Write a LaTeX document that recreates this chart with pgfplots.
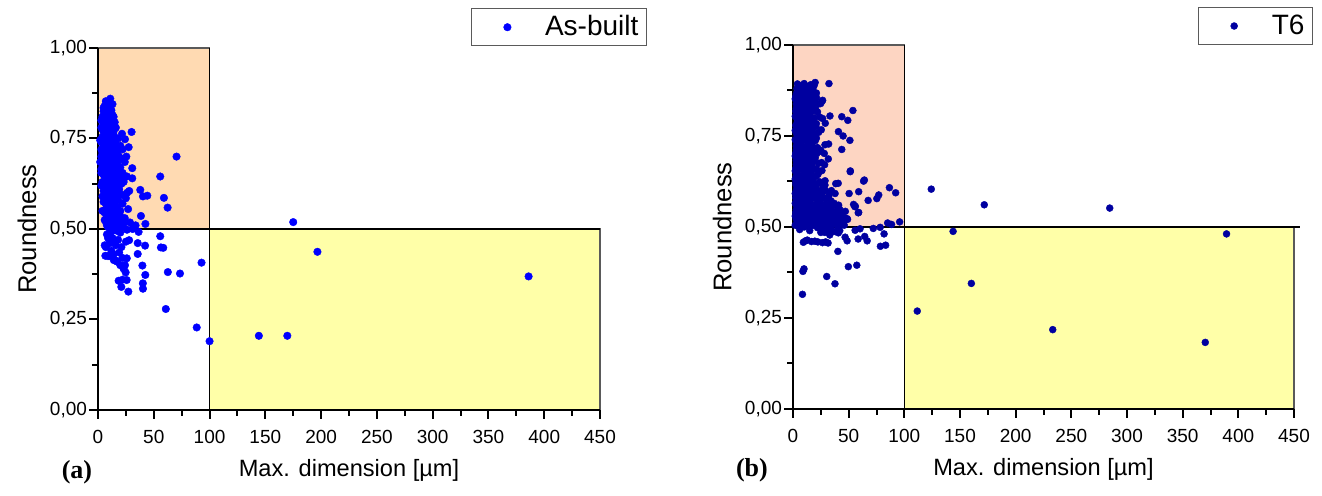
\documentclass[border=0pt]{standalone}
\usepackage{fontspec}
\setmainfont{Liberation Sans}
\newfontfamily\timesfont{Liberation Serif}
\usepackage{pgfplots}
\pgfplotsset{compat=1.18}
\definecolor{dotA}{RGB}{0,0,255}
\definecolor{dotB}{RGB}{0,0,160}
\definecolor{peachA}{RGB}{255,218,178}
\definecolor{peachB}{RGB}{253,213,194}
\definecolor{paleyellow}{RGB}{255,255,168}
\definecolor{edge}{RGB}{90,90,90}

\pgfplotsset{
  panel/.style={
    scale only axis, width=251pt, height=181pt,
    xmin=0, xmax=450, ymin=0, ymax=1,
    axis x line*=bottom, axis y line*=left,
    axis line style={-, line width=1pt, black},
    axis on top, clip=false,
    xtick={0,50,...,450}, ytick={0,0.25,0.5,0.75,1},
    minor x tick num=1, minor y tick num=1,
    tick align=outside, major tick length=4.5pt, minor tick length=2.8pt,
    every tick/.style={black, line width=1pt},
    /pgf/number format/assume math mode=true,
    ticklabel style={font=\fontsize{9.5}{11}\selectfont},
    xticklabel style={yshift=-2pt},
    yticklabel style={xshift=2.5pt, /pgf/number format/fixed, /pgf/number format/fixed zerofill,
      /pgf/number format/precision=2, /pgf/number format/use comma},
    xlabel={Max. dimension [µm]}, ylabel={Roundness},
    every axis x label/.style={at={(axis description cs:0.5,-0.166)}, anchor=center,
      font=\fontsize{11.8}{14}\selectfont},
    every axis y label/.style={at={(axis description cs:-0.1414,0.5)}, anchor=center, rotate=90,
      font=\fontsize{12.8}{14}\selectfont},
    legend style={draw=edge, line width=0.6pt, font=\fontsize{14}{16}\selectfont,
      anchor=north east, inner xsep=2pt, inner ysep=1.5pt},
    legend image code/.code={\path (0pt,0pt) (32pt,0pt); \draw plot coordinates {(15.5pt,0pt)};},
  },
  dots/.style={only marks, mark=*, mark size=1.9pt, mark options={line width=0.2pt}},
}

\begin{document}
\begin{tikzpicture}
\useasboundingbox (0,0) rectangle (661pt,248pt);

% ---------- (a) as-built ----------
\begin{axis}[panel, at={(49pt,43pt)}, anchor=south west,
  legend style={at={(1.0936,1.1105)}}]
\addplot[forget plot, draw=edge, line width=0.6pt, fill=peachA] coordinates {(0,0.5) (100,0.5) (100,1) (0,1) (0,0.5)};
\addplot[forget plot, draw=edge, line width=0.6pt, fill=paleyellow] coordinates {(100,0) (450,0) (450,0.5) (100,0.5) (100,0)};
\addplot[forget plot, black, line width=0.7pt] coordinates {(0,0.5) (450,0.5)};
\addplot[forget plot, black, line width=0.7pt] coordinates {(100,0) (100,1)};
\addplot[dots, color=dotA] coordinates {
(11,0.86) (7,0.853) (13,0.845) (9,0.84) (5,0.835) (8,0.83) (12,0.828) (6,0.82) (10,0.818) (14,0.81)
(4,0.81) (7,0.805) (11,0.80) (15,0.795) (9,0.79) (5,0.79) (13,0.785) (3,0.78) (8,0.775) (16,0.78)
(6,0.765) (11,0.77) (4,0.755) (14,0.76) (9,0.75) (18,0.75) (2,0.745) (7,0.74) (12,0.738) (16,0.735)
(5,0.73) (10,0.725) (20,0.73) (3,0.72) (8,0.715) (14,0.715) (22,0.72) (6,0.705) (12,0.70) (18,0.705)
(4,0.695) (9,0.69) (15,0.69) (21,0.695) (2,0.685) (7,0.68) (11,0.675) (17,0.68) (24,0.685) (5,0.67)
(13,0.665) (19,0.665) (3,0.655) (9,0.655) (16,0.65) (22,0.655) (6,0.645) (11,0.64) (14,0.635) (20,0.64)
(26,0.645) (4,0.63) (8,0.625) (17,0.625) (23,0.63) (6,0.615) (12,0.61) (19,0.61) (10,0.60) (15,0.60)
(21,0.595) (28,0.605) (7,0.59) (13,0.585) (18,0.58) (25,0.585) (5,0.575) (10,0.57) (15,0.565) (22,0.57)
(8,0.56) (12,0.555) (18,0.55) (27,0.555) (6,0.545) (14,0.54) (20,0.535) (10,0.53) (16,0.525) (24,0.53)
(7,0.52) (12,0.515) (19,0.51) (9,0.505) (14,0.50) (22,0.505) (17,0.495) (11,0.49) (26,0.498) (31,0.50)
(3,0.80) (5,0.77) (8,0.76) (10,0.745) (6,0.73) (4,0.71) (10,0.705) (7,0.70) (5,0.69) (13,0.68)
(8,0.665) (11,0.655) (7,0.64) (9,0.63) (13,0.62) (5,0.605) (16,0.59) (9,0.58) (11,0.565) (17,0.56)
(13,0.53) (8,0.51) (6,0.84) (10,0.85) (4,0.775) (12,0.76) (3,0.74) (9,0.72) (4,0.68) (10,0.66)
(3,0.62) (7,0.60) (12,0.59) (6,0.58) (9,0.55) (4,0.55) (15,0.51) (6,0.525)
(8,0.845) (11,0.838) (5,0.825) (9,0.812) (13,0.815) (6,0.80) (12,0.795) (7,0.785) (10,0.78) (14,0.77)
(6,0.755) (11,0.755) (15,0.745) (4,0.74) (8,0.73) (12,0.725) (17,0.72) (5,0.715) (11,0.71) (15,0.705)
(3,0.70) (8,0.695) (12,0.69) (18,0.69) (6,0.675) (10,0.68) (15,0.675) (20,0.67) (3,0.665) (7,0.66)
(13,0.655) (18,0.65) (5,0.65) (9,0.645) (14,0.645) (21,0.625) (11,0.625) (15,0.615) (8,0.61) (4,0.59)
(10,0.59) (14,0.575) (19,0.595) (7,0.57) (12,0.57) (16,0.55) (10,0.545) (20,0.55) (8,0.535) (18,0.525)
(11,0.51) (23,0.515) (16,0.51) (13,0.495) (20,0.49) (9,0.475) (15,0.465)
(8,0.485) (13,0.475) (18,0.47) (10,0.46) (16,0.455) (21,0.45) (12,0.44) (19,0.435) (14,0.43) (9,0.425)
(22,0.42) (17,0.41) (20,0.40) (23,0.39) (12,0.47) (25,0.465) (7,0.45)
(70.4,0.70) (55.8,0.645) (59.1,0.586) (62.4,0.559) (175,0.519) (196.7,0.437) (55.8,0.48) (56.4,0.449)
(58.5,0.448) (92.8,0.407) (62.6,0.381) (73.5,0.377) (60.8,0.279) (88.5,0.228) (100,0.19) (144.2,0.205)
(169.7,0.205) (386,0.369) (30.1,0.768) (30.7,0.668) (37.9,0.608) (40.3,0.59) (44.2,0.592) (38.5,0.536)
(42.5,0.514) (33.7,0.51) (36.4,0.492) (42.2,0.454) (35.6,0.461) (35.6,0.431) (39.8,0.399) (42.4,0.373)
(40.2,0.35) (40.3,0.335) (27.9,0.469) (27.2,0.327) (20.9,0.34) (18.5,0.357) (22,0.36) (25.7,0.359)
(24.8,0.38) (24.2,0.40) (25.8,0.419) (14.2,0.414) (16,0.413) (6.6,0.426) (10.6,0.426) (6,0.455)
(28.7,0.518) (30.7,0.64) (27.5,0.726) (24.2,0.748) (21.5,0.763) (25.4,0.70) (26,0.60)
};
\addlegendentry{As-built}
\node[font=\timesfont\bfseries\fontsize{13}{15}\selectfont] at (axis description cs:-0.042,-0.171) {(a)};
\end{axis}

% ---------- (b) T6 ----------
\begin{axis}[panel, at={(396.5pt,43.5pt)}, anchor=south west, height=182pt, width=250.5pt,
  legend style={at={(1.038,1.104)}}]
\addplot[forget plot, draw=edge, line width=0.6pt, fill=peachB] coordinates {(0,0.5) (100,0.5) (100,1) (0,1) (0,0.5)};
\addplot[forget plot, draw=edge, line width=0.6pt, fill=paleyellow] coordinates {(100,0) (450,0) (450,0.5) (100,0.5) (100,0)};
\addplot[forget plot, black, line width=0.7pt] coordinates {(0,0.5) (455,0.5)};
\addplot[forget plot, black, line width=0.7pt] coordinates {(100,0) (100,1)};
\addplot[dots, mark size=1.75pt, color=dotB] coordinates {
(4,0.893) (7,0.888) (10,0.894) (13,0.886) (16,0.891) (19,0.889) (5,0.878) (9,0.875) (12,0.871) (15,0.877)
(18,0.872) (3,0.866) (21,0.868) (6,0.862) (10,0.858) (14,0.855) (2,0.852) (17,0.85) (8,0.846) (12,0.842)
(4,0.84) (20,0.843) (23,0.838) (15,0.835) (6,0.832) (10,0.83) (26,0.845) (3,0.826) (13,0.824) (18,0.822)
(8,0.818) (22,0.816) (5,0.812) (11,0.81) (15,0.806) (2,0.804) (19,0.80) (7,0.798) (12,0.795) (24,0.802)
(4,0.79) (16,0.79) (9,0.786) (21,0.784) (3,0.78) (13,0.778) (6,0.772) (10,0.768) (17,0.774) (2,0.765)
(14,0.762) (8,0.758) (19,0.756) (4,0.752) (11,0.75) (23,0.76) (16,0.745) (6,0.744) (2,0.74) (9,0.738)
(13,0.735) (20,0.737) (4,0.73) (17,0.728) (7,0.724) (11,0.72) (15,0.716) (3,0.712) (22,0.718) (8,0.708)
(18,0.705) (5,0.702) (12,0.70) (25,0.708) (2,0.695) (15,0.694) (9,0.69) (20,0.69) (6,0.684) (12,0.68)
(17,0.676) (3,0.672) (23,0.675) (10,0.668) (14,0.664) (6,0.66) (19,0.658) (2,0.654) (11,0.65) (26,0.655)
(16,0.648) (4,0.644) (8,0.64) (21,0.64) (13,0.636) (2,0.632) (18,0.63) (10,0.626) (6,0.622) (24,0.624)
(15,0.618) (3,0.614) (12,0.612) (20,0.61) (8,0.606) (27,0.608) (5,0.60) (17,0.602) (14,0.596) (2,0.592)
(10,0.59) (22,0.592) (7,0.585) (26,0.586) (19,0.583) (13,0.58) (4,0.576) (30,0.578) (16,0.574) (9,0.57)
(24,0.568) (34,0.572) (2,0.565) (12,0.562) (20,0.56) (28,0.558) (6,0.555) (38,0.56) (15,0.552) (32,0.55)
(3,0.548) (10,0.545) (24,0.546) (42,0.548) (18,0.54) (6,0.538) (29,0.537) (13,0.535) (36,0.535) (2,0.53)
(21,0.53) (9,0.527) (26,0.525) (44,0.528) (16,0.522) (33,0.522) (5,0.518) (12,0.515) (39,0.518) (23,0.514)
(30,0.512) (8,0.51) (19,0.508) (2,0.505) (35,0.506) (14,0.503) (27,0.502) (42,0.51) (46,0.505) (10,0.5)
(22,0.498) (6,0.493) (15,0.49) (30,0.495) (36,0.488) (25,0.485) (42,0.49) (33,0.478)
(7,0.87) (11,0.863) (5,0.85) (9,0.822) (14,0.815) (7,0.78) (11,0.785) (5,0.76) (9,0.75) (14,0.745)
(6,0.72) (10,0.71) (13,0.705) (4,0.69) (8,0.675) (13,0.655) (5,0.64) (16,0.632) (9,0.615) (11,0.6)
(4,0.61) (18,0.59) (7,0.565) (15,0.566) (11,0.553) (20,0.547) (8,0.535) (26,0.54) (4,0.522) (15,0.537)
(21,0.518) (11,0.525) (17,0.51) (31,0.528) (38,0.53) (25,0.515) (40,0.545) (5,0.507) (12,0.505)
(3.5,0.88) (6.5,0.883) (9.5,0.879) (12.5,0.882) (15.5,0.878) (18,0.883)
(2.5,0.859) (5.5,0.864) (8.5,0.861) (11.5,0.857) (14.5,0.863) (17.5,0.858) (21,0.856)
(3,0.838) (6,0.843) (9,0.84) (12,0.836) (15,0.844) (18,0.837)
(2.5,0.818) (5.5,0.823) (8.5,0.82) (11.5,0.816) (14.5,0.824) (17.5,0.819) (20.5,0.822)
(3,0.801) (6,0.796) (9,0.803) (12,0.799) (15,0.802) (18,0.797)
(2.5,0.779) (5.5,0.783) (8.5,0.777) (11.5,0.782) (14.5,0.776) (17.5,0.781) (20.5,0.776)
(3,0.758) (6,0.763) (9,0.76) (12,0.756) (15,0.764) (18,0.76)
(2.5,0.737) (5.5,0.742) (8.5,0.739) (11.5,0.744) (14.5,0.736) (17.5,0.741) (21,0.744)
(3,0.722) (6,0.717) (9,0.721) (12,0.718) (15,0.723) (18,0.716)
(2.5,0.703) (5.5,0.698) (8.5,0.702) (11.5,0.697) (14.5,0.701) (17.5,0.698) (21.5,0.702)
(3,0.682) (6,0.677) (9,0.681) (12,0.678) (15,0.683) (18,0.679)
(2.5,0.661) (5.5,0.657) (8.5,0.662) (11.5,0.658) (14.5,0.66) (17.5,0.663) (21,0.66)
(3,0.641) (6,0.636) (9,0.642) (12,0.638) (15,0.643) (18,0.637) (22.5,0.645)
(2.5,0.62) (5.5,0.624) (8.5,0.618) (11.5,0.623) (14.5,0.619) (17.5,0.622) (21,0.618) (24.5,0.62)
(3,0.601) (6,0.597) (9,0.602) (12,0.598) (15,0.603) (18,0.6) (21,0.604) (24,0.598) (29,0.6)
(2.5,0.58) (5.5,0.583) (8.5,0.578) (11.5,0.582) (14.5,0.579) (17.5,0.584) (21,0.578) (24.5,0.582) (28,0.579) (32,0.585)
(3,0.561) (6,0.557) (9,0.563) (12,0.558) (15,0.562) (18,0.556) (21,0.563) (25,0.558) (29,0.562) (33,0.558) (37,0.565) (41,0.56)
(2.5,0.54) (5.5,0.544) (8.5,0.538) (11.5,0.543) (14.5,0.539) (17.5,0.545) (21,0.538) (24.5,0.541) (28,0.545) (31.5,0.54) (35,0.545) (39,0.54) (43,0.538) (47,0.543)
(3,0.521) (6,0.518) (9,0.523) (12,0.519) (15,0.524) (18,0.518) (21,0.523) (25,0.52) (29,0.524) (33,0.518) (37,0.522) (41,0.52) (45,0.517) (49,0.521)
(4,0.504) (7.5,0.507) (11,0.503) (14.5,0.508) (18,0.504) (21.5,0.507) (25,0.503) (28.5,0.507) (32,0.503) (36,0.508) (40,0.503) (44,0.507)
(32.3,0.894) (53.8,0.82) (43.8,0.803) (49.2,0.793) (33.2,0.805) (40.8,0.762) (45,0.75) (51.1,0.738)
(43.8,0.713) (51.4,0.652) (63.4,0.626) (86.6,0.608) (92.2,0.594) (95.8,0.514) (88.5,0.507) (85,0.511)
(77,0.588) (75.3,0.578) (67.5,0.573) (59,0.597) (50.4,0.592) (54.4,0.562) (55.5,0.556) (58.6,0.539)
(47.8,0.522) (46.5,0.524) (124.2,0.604) (171.8,0.561) (143.8,0.488) (160.2,0.345) (111.6,0.269)
(284.5,0.552) (389.4,0.481) (370.3,0.183) (233.3,0.218) (72.1,0.496) (78.3,0.499) (81.8,0.481)
(78.5,0.447) (83.2,0.45) (66.6,0.462) (64.4,0.474) (58.5,0.467) (55.8,0.491) (60.2,0.495) (46.8,0.472)
(48.6,0.462) (57.3,0.395) (49.7,0.391) (40.3,0.433) (37.7,0.344) (30.3,0.364) (8.5,0.315) (8.9,0.378)
(9.9,0.385) (11.2,0.462) (9.3,0.458) (12.8,0.464) (16.6,0.46) (19.6,0.461) (22.3,0.459) (26.5,0.457)
(29.3,0.459) (31.5,0.456) (28.6,0.485) (27.3,0.492) (34.2,0.49) (38.4,0.487) (40.8,0.484) (32.9,0.517)
(37.8,0.592) (33.7,0.597) (38.4,0.619) (28.7,0.615) (26.6,0.602) (31.7,0.687) (25.7,0.677) (28.4,0.671)
(24.8,0.711) (28.1,0.702) (32,0.728) (28.7,0.726) (25.4,0.767) (29,0.785) (26.6,0.798) (26.6,0.848)
(24.8,0.839) (19.9,0.897) (28.8,0.627) (34.5,0.6) (40.6,0.62) (64.1,0.629) (51.5,0.654) (56,0.557)
(59,0.54) (48.5,0.523)
};
\addlegendentry{T6}
\node[font=\timesfont\bfseries\fontsize{13}{15}\selectfont] at (axis description cs:-0.082,-0.168) {(b)};
\end{axis}
\end{tikzpicture}
\end{document}
